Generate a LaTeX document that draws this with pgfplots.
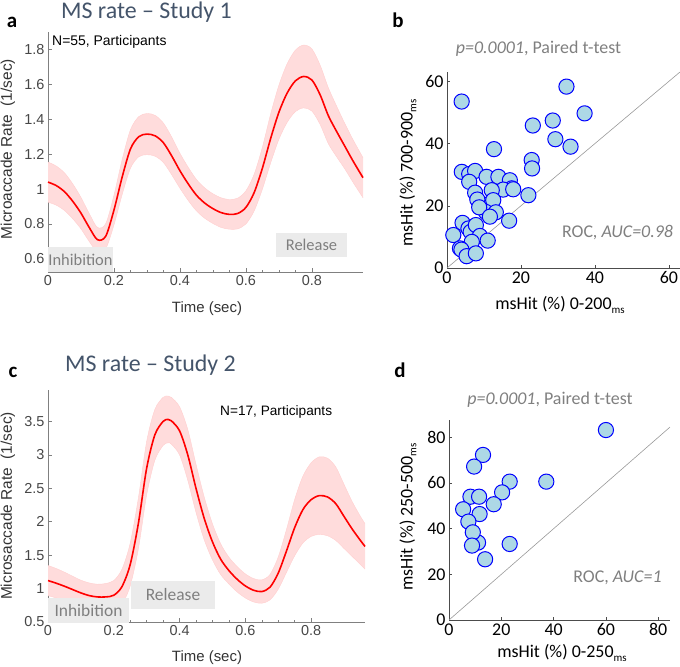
\documentclass[border=0pt]{standalone}
\usepackage{pgfplots}
\pgfplotsset{compat=1.18}
\usepgfplotslibrary{fillbetween}
\usepackage{pgfplotstable}
\usepackage{fontspec}
\setmainfont{Carlito}
\newfontfamily\arial{Liberation Sans}
\definecolor{titleblue}{HTML}{44546A}
\definecolor{txtgray}{HTML}{7F7F7F}
\definecolor{boxgray}{HTML}{EBEBEB}
\definecolor{ptfill}{HTML}{ADD8E6}
\definecolor{bandpink}{HTML}{FFDCDC}
\definecolor{bandedge}{HTML}{FFCFCF}

\pgfplotstableread{
t m u l
0.000 1.040 1.155 0.925
0.025 1.020 1.132 0.908
0.050 0.985 1.093 0.877
0.075 0.930 1.030 0.830
0.100 0.862 0.952 0.772
0.125 0.780 0.860 0.700
0.150 0.710 0.780 0.640
0.175 0.730 0.802 0.658
0.200 0.880 0.965 0.795
0.225 1.070 1.170 0.970
0.250 1.230 1.340 1.120
0.275 1.300 1.415 1.185
0.300 1.315 1.433 1.197
0.325 1.305 1.422 1.188
0.350 1.265 1.378 1.152
0.375 1.190 1.298 1.082
0.400 1.105 1.205 1.005
0.425 1.030 1.125 0.935
0.450 0.965 1.055 0.875
0.475 0.920 1.007 0.833
0.500 0.888 0.973 0.803
0.525 0.865 0.950 0.780
0.550 0.855 0.940 0.770
0.575 0.860 0.948 0.772
0.600 0.895 0.990 0.800
0.625 0.980 1.085 0.875
0.650 1.120 1.240 1.000
0.675 1.290 1.430 1.150
0.700 1.440 1.595 1.285
0.725 1.550 1.718 1.382
0.750 1.620 1.796 1.444
0.775 1.645 1.825 1.465
0.800 1.625 1.803 1.447
0.825 1.540 1.710 1.370
0.850 1.420 1.580 1.260
0.875 1.330 1.475 1.185
0.900 1.245 1.375 1.115
0.925 1.160 1.282 1.038
0.955 1.065 1.180 0.950
}\dataA

\pgfplotstableread{
t m u l
0.000 1.120 1.345 0.895
0.025 1.080 1.300 0.860
0.050 1.035 1.245 0.825
0.075 0.985 1.185 0.785
0.100 0.935 1.125 0.745
0.125 0.895 1.085 0.705
0.150 0.875 1.065 0.685
0.175 0.875 1.075 0.675
0.200 0.900 1.120 0.680
0.225 1.030 1.290 0.770
0.250 1.360 1.680 1.040
0.275 1.980 2.360 1.600
0.300 2.800 3.200 2.400
0.325 3.300 3.680 2.920
0.350 3.500 3.860 3.140
0.365 3.530 3.880 3.180
0.375 3.510 3.860 3.160
0.400 3.360 3.720 3.000
0.425 3.000 3.380 2.620
0.450 2.500 2.860 2.140
0.475 2.050 2.370 1.730
0.500 1.700 1.970 1.430
0.525 1.440 1.670 1.210
0.550 1.270 1.470 1.070
0.575 1.140 1.330 0.950
0.600 1.040 1.220 0.860
0.625 0.975 1.150 0.800
0.650 0.955 1.130 0.780
0.675 1.020 1.210 0.830
0.700 1.230 1.470 0.990
0.725 1.560 1.880 1.240
0.750 1.910 2.330 1.490
0.775 2.180 2.680 1.680
0.800 2.330 2.880 1.780
0.825 2.390 2.970 1.810
0.850 2.370 2.950 1.790
0.875 2.270 2.820 1.720
0.900 2.080 2.560 1.600
0.925 1.890 2.300 1.480
0.950 1.720 2.080 1.360
0.964 1.630 1.970 1.290
}\dataC

\pgfplotstableread{
x y
3.96 53.5
32.3 58.3
37.2 49.7
28.6 47.4
23.2 45.8
29.3 41.4
33.4 39.0
12.7 38.2
22.9 34.7
23.0 32.0
4.0 30.9
6.0 30.2
7.6 31.2
6.0 27.7
10.7 29.3
13.9 29.3
17.0 28.2
17.5 25.6
15.2 25.2
12.1 25.0
17.9 25.3
7.6 24.2
22.0 23.4
9.5 20.5
8.2 22.0
12.5 21.8
10.5 18.0
8.7 19.5
13.2 17.9
11.6 16.5
16.8 15.2
4.2 14.5
5.8 12.7
6.4 11.6
7.8 13.8
1.7 10.6
8.9 10.3
11.0 8.8
6.7 8.4
3.5 6.3
3.9 5.9
5.3 3.8
7.8 4.7
}\dataB

\pgfplotstableread{
x y
60.0 83.2
13.0 72.3
9.6 67.2
23.2 60.6
37.2 60.6
20.3 55.9
8.2 54.0
11.5 54.0
17.1 50.7
5.4 48.5
11.7 46.4
7.4 43.1
11.1 33.9
9.1 38.4
8.8 32.6
23.2 33.3
13.8 26.6
}\dataD

\pgfplotsset{
  lineplot/.style={
    scale only axis, anchor=south west, clip=false,
    axis x line*=bottom, axis y line*=left,
    axis line style={draw=black!50, line width=0.6bp},
    tick align=inside, major tick length=4bp, minor tick length=2bp,
    every tick/.style={black!50, line width=0.5bp},
    tick label style={font=\arial\fontsize{14.5}{16}\selectfont, text=black!72},
    /pgf/number format/assume math mode=true,
    xtick={0,0.2,0.4,0.6,0.8}, minor x tick num=3, xmin=0,
  },
  scatterplot/.style={
    scale only axis, anchor=south west, clip=false,
    axis x line*=bottom, axis y line*=left,
    axis line style={draw=black!70, line width=0.6bp},
    tick align=inside, major tick length=3bp,
    every tick/.style={black!70, line width=0.5bp},
    tick label style={font=\fontsize{18}{20}\selectfont, text=black},
    /pgf/number format/assume math mode=true,
    xmin=0, ymin=0,
  },
  pts/.style={only marks, mark=*, mark size=7.6bp,
    mark options={fill=ptfill, draw=blue, line width=1bp}},
}

\begin{document}
\begin{tikzpicture}[x=1bp,y=1bp]

% ---------- panel a ----------
\begin{axis}[lineplot, at={(48bp,395bp)}, width=315bp, height=240bp,
  xmax=0.955, ymin=0.525, ymax=1.9,
  ytick={0.6,0.8,1,1.2,1.4,1.6,1.8}]
  \addplot[name path=ua, draw=bandedge, smooth] table[x=t,y=u]{\dataA};
  \addplot[name path=la, draw=bandedge, smooth] table[x=t,y=l]{\dataA};
  \addplot[fill=bandpink, draw=none] fill between[of=ua and la];
  \addplot[red, line width=1.6bp, smooth] table[x=t,y=m]{\dataA};
\end{axis}

% ---------- panel c ----------
\begin{axis}[lineplot, at={(48bp,45bp)}, width=317bp, height=232bp,
  xmax=0.964, ymin=0.5, ymax=3.97,
  ytick={0.5,1,1.5,2,2.5,3,3.5}]
  \addplot[name path=uc, draw=bandedge, smooth] table[x=t,y=u]{\dataC};
  \addplot[name path=lc, draw=bandedge, smooth] table[x=t,y=l]{\dataC};
  \addplot[fill=bandpink, draw=none] fill between[of=uc and lc];
  \addplot[red, line width=1.6bp, smooth] table[x=t,y=m]{\dataC};
\end{axis}

% ---------- panel b ----------
\begin{axis}[scatterplot, at={(447bp,399bp)}, width=233bp, height=196bp,
  xmax=63, ymax=63, xtick={0,20,40,60}, ytick={0,20,40,60}]
  \addplot[black!40, line width=0.6bp] coordinates {(0,0) (63,63)};
  \addplot[pts] table[x=x,y=y]{\dataB};
\end{axis}

% ---------- panel d ----------
\begin{axis}[scatterplot, at={(449bp,47bp)}, width=221bp, height=200bp,
  xmax=84.5, ymax=87.6, xtick={0,20,40,60,80}, ytick={0,20,40,60,80}]
  \addplot[black!40, line width=0.6bp] coordinates {(0,0) (84.5,84.5)};
  \addplot[pts] table[x=x,y=y]{\dataD};
\end{axis}

% ---------- annotation boxes ----------
\fill[boxgray] (48,395) rectangle (113,420);
\node[text=txtgray, font=\fontsize{16.5}{18}\selectfont] at (80.5,407.5) {Inhibition};
\fill[boxgray] (276,410) rectangle (347,434);
\node[text=txtgray, font=\fontsize{16.5}{18}\selectfont] at (311.5,422) {Release};

\fill[boxgray] (48,44) rectangle (129,69);
\node[text=txtgray, font=\fontsize{17.5}{19}\selectfont] at (88.5,56.5) {Inhibition};
\fill[boxgray] (131,58) rectangle (215,86);
\node[text=txtgray, font=\fontsize{17.5}{19}\selectfont] at (173,72) {Release};

% ---------- texts ----------
\node[text=titleblue, font=\fontsize{24}{28}\selectfont] at (146.5,655) {MS rate – Study 1};
\node[text=titleblue, font=\fontsize{24}{28}\selectfont] at (150.5,302) {MS rate – Study 2};
\node[font=\bfseries\fontsize{21}{24}\selectfont] at (12,645) {a};
\node[font=\bfseries\fontsize{21}{24}\selectfont] at (398,647) {b};
\node[font=\bfseries\fontsize{21}{24}\selectfont] at (13,295) {c};
\node[font=\bfseries\fontsize{21}{24}\selectfont] at (400,297) {d};

\node[anchor=west, inner sep=0, font=\arial\fontsize{14}{16}\selectfont] at (52,625) {N=55, Participants};
\node[anchor=west, inner sep=0, font=\arial\fontsize{13.7}{16}\selectfont] at (220,255.5) {N=17, Participants};

\node[rotate=90, text=black!80, font=\arial\fontsize{15.5}{17}\selectfont] at (8,518) {Microaccade Rate\hspace{0.55em}(1/sec)};
\node[rotate=90, text=black!80, font=\arial\fontsize{15.5}{17}\selectfont] at (8,161) {Microsaccade Rate\hspace{0.55em}(1/sec)};
\node[text=black!80, font=\arial\fontsize{15}{17}\selectfont] at (207,358) {Time (sec)};
\node[text=black!80, font=\arial\fontsize{15}{17}\selectfont] at (207,9) {Time (sec)};

\node[text=txtgray, font=\fontsize{18}{20}\selectfont] at (538.5,618) {\textit{p=0.0001}, Paired t-test};
\node[text=txtgray, font=\fontsize{18}{20}\selectfont] at (550,267) {\textit{p=0.0001}, Paired t-test};
\node[text=txtgray, font=\fontsize{18}{20}\selectfont] at (617.5,434) {ROC, \textit{AUC=0.98}};
\node[text=txtgray, font=\fontsize{18}{20}\selectfont] at (617.5,89) {ROC, \textit{AUC=1}};

\node[font=\fontsize{18}{20}\selectfont] at (560,362) {msHit (\%) 0-200\raisebox{-0.2em}{\fontsize{11}{12}\selectfont ms}};
\node[font=\fontsize{18}{20}\selectfont] at (562,14) {msHit (\%) 0-250\raisebox{-0.2em}{\fontsize{11}{12}\selectfont ms}};
\node[rotate=90, font=\fontsize{18}{20}\selectfont] at (408,494) {msHit (\%) 700-900\raisebox{-0.2em}{\fontsize{11}{12}\selectfont ms}};
\node[rotate=90, font=\fontsize{18}{20}\selectfont] at (408,150) {msHit (\%) 250-500\raisebox{-0.2em}{\fontsize{11}{12}\selectfont ms}};

\pgfresetboundingbox
\path[use as bounding box] (0,0) rectangle (680,667);
\end{tikzpicture}
\end{document}
